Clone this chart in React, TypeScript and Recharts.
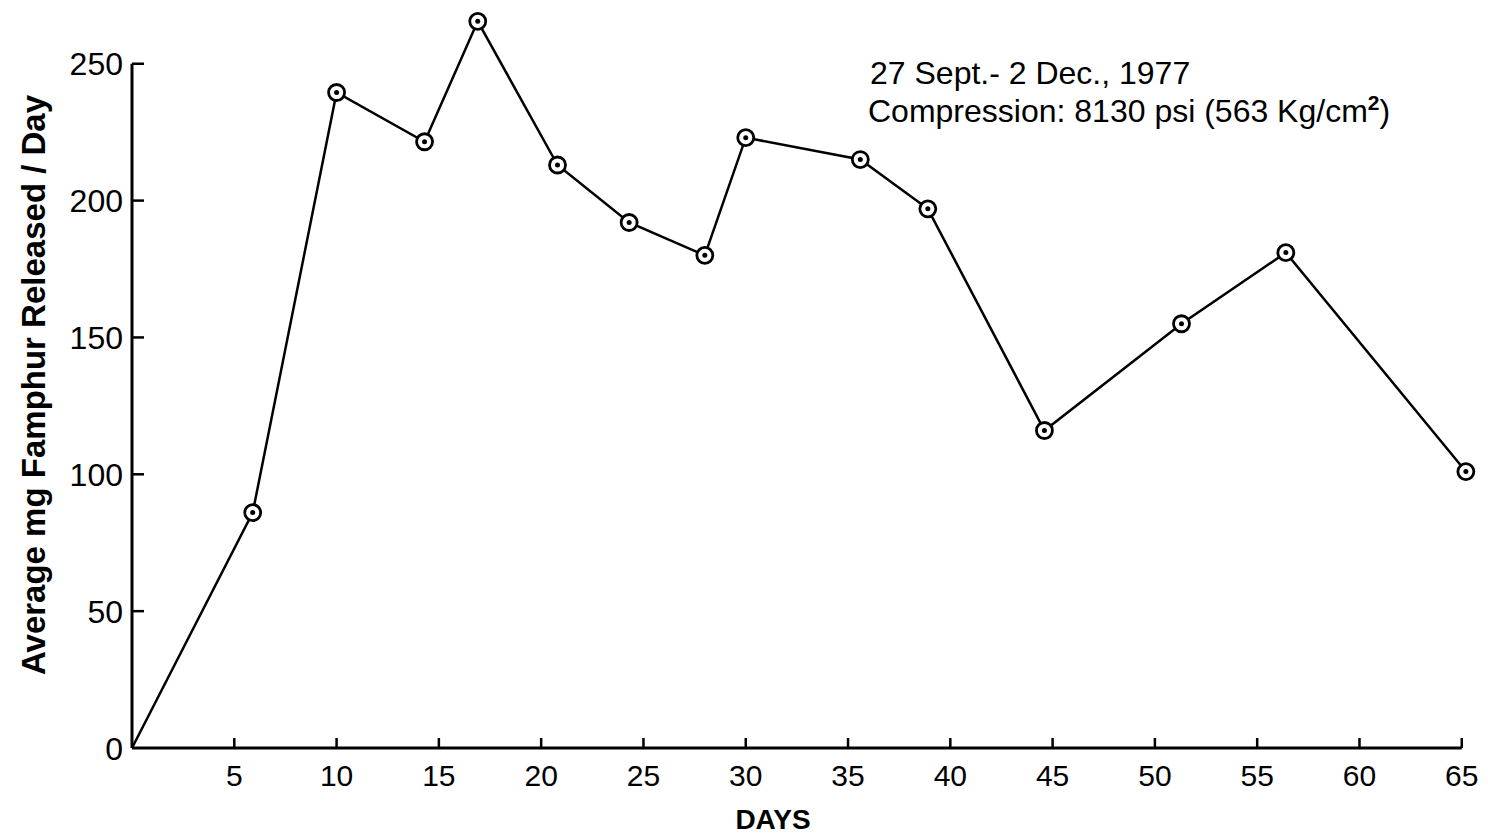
import { LineChart, Line, XAxis, YAxis, ReferenceLine } from "recharts";

// values
const days = [0, 5.9, 10, 14.3, 16.9, 20.8, 24.3, 28, 30, 35.6, 38.9, 44.6, 51.3, 56.4, 65.2];
const released = [0, 86, 239.5, 221.5, 265.5, 213, 192, 180, 223, 215, 197, 116, 155, 181, 101];
const xTicks = [5, 10, 15, 20, 25, 30, 35, 40, 45, 50, 55, 60, 65];
const yTicks = [0, 50, 100, 150, 200, 250];

const data = days.map((d, i) => ({ day: d, mg: released[i] }));

const FONT = "'Liberation Sans', Arial, sans-serif";

const XTick = (props: any) => {
  const { x, y, payload } = props;
  return (
    <g>
      <line x1={x} y1={y} x2={x} y2={y - 10} stroke="#000" strokeWidth={2.5} />
      <text x={x} y={y + 38} textAnchor="middle" fontSize={30} fontFamily={FONT} fill="#000">
        {payload.value}
      </text>
    </g>
  );
};

const YTick = (props: any) => {
  const { x, y, payload } = props;
  return (
    <g>
      {payload.value !== 0 && (
        <line x1={x} y1={y} x2={x + 12} y2={y} stroke="#000" strokeWidth={2.5} />
      )}
      <text x={x - 9} y={y} dy="0.36em" textAnchor="end" fontSize={32} fontFamily={FONT} fill="#000">
        {payload.value}
      </text>
    </g>
  );
};

const CircleDot = (props: any) => {
  const { cx, cy, index } = props;
  if (index === 0) return <g key={index} />;
  return (
    <g key={index}>
      <circle cx={cx} cy={cy} r={8} fill="#fff" stroke="#000" strokeWidth={2.8} />
      <circle cx={cx} cy={cy} r={2.5} fill="#000" />
    </g>
  );
};

export default function App() {
  return (
    <div style={{ position: "absolute", left: 0, top: 0, width: 1488, height: 836, background: "#fff" }}>
      <LineChart
        width={1488}
        height={836}
        data={data}
        margin={{ top: 9, right: 16, bottom: 58, left: 72 }}
      >
        <XAxis
          dataKey="day"
          type="number"
          domain={[0, 65.5]}
          ticks={xTicks}
          axisLine={false}
          tickLine={false}
          tickSize={0}
          tickMargin={0}
          height={30}
          tick={<XTick />}
          interval={0}
        />
        <YAxis
          type="number"
          domain={[0, 270]}
          ticks={yTicks}
          axisLine={false}
          tickLine={false}
          tickSize={0}
          tickMargin={0}
          width={60}
          tick={<YTick />}
          interval={0}
        />
        <ReferenceLine segment={[{ x: 0, y: 0 }, { x: 65, y: 0 }]} stroke="#000" strokeWidth={3} />
        <ReferenceLine segment={[{ x: 0, y: 0 }, { x: 0, y: 250 }]} stroke="#000" strokeWidth={3} />
        <Line
          dataKey="mg"
          stroke="#000"
          strokeWidth={2.5}
          dot={<CircleDot />}
          isAnimationActive={false}
        />
        <text
          x={33}
          y={385}
          transform="rotate(-90 33 385)"
          textAnchor="middle"
          dominantBaseline="central"
          fontSize={33}
          fontWeight="bold"
          fontFamily={FONT}
          fill="#000"
        >
          Average mg Famphur Released / Day
        </text>
        <text x={773} y={829} textAnchor="middle" fontSize={28} fontWeight="bold" fontFamily={FONT} fill="#000">
          DAYS
        </text>
        <text x={870} y={84} fontSize={32} fontFamily={FONT} fill="#000">
          27 Sept.- 2 Dec., 1977
        </text>
        <text x={868} y={122} fontSize={32} fontFamily={FONT} fill="#000">
          Compression: 8130 psi (563 Kg/cm<tspan dy={-12} fontSize={21} fontWeight="bold">2</tspan>
          <tspan dy={12}>)</tspan>
        </text>
      </LineChart>
    </div>
  );
}
